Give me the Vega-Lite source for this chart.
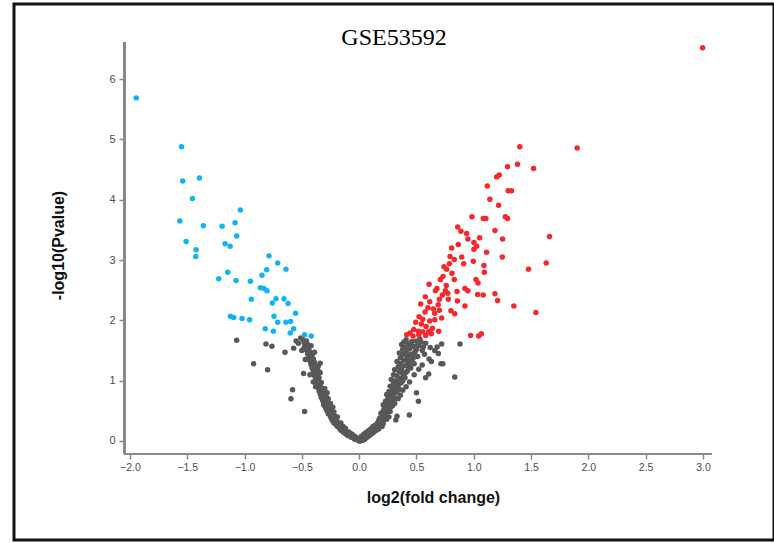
{
  "$schema": "https://vega.github.io/schema/vega-lite/v6.json",
  "width": 774,
  "height": 543,
  "autosize": {"type": "fit", "contains": "padding"},
  "padding": {"left": 14, "top": 4, "right": 0, "bottom": 3},
  "background": "white",
  "config": {
    "view": {"stroke": "#111111", "strokeWidth": 3},
    "axis": {"labelFont": "Liberation Sans", "titleFont": "Liberation Sans"}
  },
  "title": {
    "text": "GSE53592",
    "font": "Liberation Serif",
    "fontSize": 24,
    "fontWeight": "normal",
    "color": "#000000",
    "anchor": "middle",
    "frame": "group",
    "offset": -46
  },
  "data": {
    "values": [
      {"fc": -0.01, "p": 0.02, "g": "ns"}, {"fc": -0.04, "p": 0.03, "g": "ns"}, {"fc": -0.02, "p": 0.05, "g": "ns"}, {"fc": -0.07, "p": 0.06, "g": "ns"},
      {"fc": -0.05, "p": 0.08, "g": "ns"}, {"fc": -0.10, "p": 0.09, "g": "ns"}, {"fc": -0.08, "p": 0.11, "g": "ns"}, {"fc": -0.12, "p": 0.12, "g": "ns"},
      {"fc": -0.10, "p": 0.14, "g": "ns"}, {"fc": -0.14, "p": 0.15, "g": "ns"}, {"fc": -0.12, "p": 0.17, "g": "ns"}, {"fc": -0.16, "p": 0.18, "g": "ns"},
      {"fc": -0.13, "p": 0.20, "g": "ns"}, {"fc": -0.17, "p": 0.21, "g": "ns"}, {"fc": -0.15, "p": 0.23, "g": "ns"}, {"fc": -0.19, "p": 0.24, "g": "ns"},
      {"fc": -0.17, "p": 0.26, "g": "ns"}, {"fc": -0.20, "p": 0.27, "g": "ns"}, {"fc": -0.18, "p": 0.29, "g": "ns"}, {"fc": -0.22, "p": 0.30, "g": "ns"},
      {"fc": -0.19, "p": 0.32, "g": "ns"}, {"fc": -0.23, "p": 0.33, "g": "ns"}, {"fc": -0.21, "p": 0.35, "g": "ns"}, {"fc": -0.24, "p": 0.36, "g": "ns"},
      {"fc": -0.22, "p": 0.38, "g": "ns"}, {"fc": -0.25, "p": 0.40, "g": "ns"}, {"fc": -0.21, "p": 0.41, "g": "ns"}, {"fc": -0.24, "p": 0.43, "g": "ns"},
      {"fc": -0.27, "p": 0.45, "g": "ns"}, {"fc": -0.23, "p": 0.46, "g": "ns"}, {"fc": -0.26, "p": 0.48, "g": "ns"}, {"fc": -0.28, "p": 0.50, "g": "ns"},
      {"fc": -0.25, "p": 0.52, "g": "ns"}, {"fc": -0.29, "p": 0.54, "g": "ns"}, {"fc": -0.27, "p": 0.56, "g": "ns"}, {"fc": -0.30, "p": 0.58, "g": "ns"},
      {"fc": -0.26, "p": 0.60, "g": "ns"}, {"fc": -0.29, "p": 0.62, "g": "ns"}, {"fc": -0.31, "p": 0.64, "g": "ns"}, {"fc": -0.28, "p": 0.66, "g": "ns"},
      {"fc": -0.32, "p": 0.68, "g": "ns"}, {"fc": -0.30, "p": 0.70, "g": "ns"}, {"fc": -0.33, "p": 0.72, "g": "ns"}, {"fc": -0.29, "p": 0.74, "g": "ns"},
      {"fc": -0.31, "p": 0.76, "g": "ns"}, {"fc": -0.34, "p": 0.78, "g": "ns"}, {"fc": -0.32, "p": 0.80, "g": "ns"}, {"fc": -0.35, "p": 0.83, "g": "ns"},
      {"fc": -0.33, "p": 0.85, "g": "ns"}, {"fc": -0.30, "p": 0.87, "g": "ns"}, {"fc": -0.36, "p": 0.90, "g": "ns"}, {"fc": -0.34, "p": 0.92, "g": "ns"},
      {"fc": -0.37, "p": 0.95, "g": "ns"}, {"fc": -0.33, "p": 0.97, "g": "ns"}, {"fc": -0.36, "p": 1.00, "g": "ns"}, {"fc": -0.38, "p": 1.02, "g": "ns"},
      {"fc": -0.35, "p": 1.05, "g": "ns"}, {"fc": -0.39, "p": 1.08, "g": "ns"}, {"fc": -0.37, "p": 1.10, "g": "ns"}, {"fc": -0.34, "p": 1.13, "g": "ns"},
      {"fc": -0.40, "p": 1.16, "g": "ns"}, {"fc": -0.38, "p": 1.18, "g": "ns"}, {"fc": -0.41, "p": 1.21, "g": "ns"}, {"fc": -0.36, "p": 1.24, "g": "ns"},
      {"fc": -0.42, "p": 1.27, "g": "ns"}, {"fc": -0.39, "p": 1.30, "g": "ns"}, {"fc": -0.43, "p": 1.33, "g": "ns"}, {"fc": -0.40, "p": 1.36, "g": "ns"},
      {"fc": -0.44, "p": 1.39, "g": "ns"}, {"fc": -0.41, "p": 1.42, "g": "ns"}, {"fc": -0.45, "p": 1.45, "g": "ns"}, {"fc": -0.43, "p": 1.48, "g": "ns"},
      {"fc": -0.46, "p": 1.51, "g": "ns"}, {"fc": -0.44, "p": 1.54, "g": "ns"}, {"fc": -0.47, "p": 1.57, "g": "ns"}, {"fc": -0.45, "p": 1.60, "g": "ns"},
      {"fc": -0.48, "p": 1.63, "g": "ns"}, {"fc": -0.46, "p": 1.66, "g": "ns"}, {"fc": -0.49, "p": 1.68, "g": "ns"},
      {"fc": -0.36, "p": 1.23, "g": "ns"}, {"fc": -0.34, "p": 1.29, "g": "ns"}, {"fc": -0.40, "p": 0.98, "g": "ns"}, {"fc": -0.33, "p": 0.73, "g": "ns"},
      {"fc": -0.38, "p": 0.90, "g": "ns"}, {"fc": -0.43, "p": 1.10, "g": "ns"}, {"fc": -0.47, "p": 1.35, "g": "ns"}, {"fc": -0.50, "p": 1.50, "g": "ns"},
      {"fc": -0.53, "p": 1.62, "g": "ns"}, {"fc": -0.55, "p": 1.66, "g": "ns"}, {"fc": -0.51, "p": 1.71, "g": "ns"}, {"fc": -0.42, "p": 1.58, "g": "ns"},
      {"fc": -0.39, "p": 1.47, "g": "ns"}, {"fc": -0.35, "p": 1.15, "g": "ns"}, {"fc": -0.28, "p": 0.80, "g": "ns"}, {"fc": -0.25, "p": 0.62, "g": "ns"},
      {"fc": -0.22, "p": 0.48, "g": "ns"}, {"fc": -0.19, "p": 0.40, "g": "ns"}, {"fc": -0.16, "p": 0.30, "g": "ns"}, {"fc": -0.12, "p": 0.21, "g": "ns"},
      {"fc": -0.09, "p": 0.15, "g": "ns"}, {"fc": -0.06, "p": 0.11, "g": "ns"}, {"fc": -0.03, "p": 0.06, "g": "ns"}, {"fc": -0.01, "p": 0.03, "g": "ns"},
      {"fc": 0.00, "p": 0.00, "g": "ns"}, {"fc": 0.00, "p": 0.01, "g": "ns"}, {"fc": 0.01, "p": 0.00, "g": "ns"}, {"fc": -0.02, "p": 0.02, "g": "ns"},
      {"fc": -0.27, "p": 0.50, "g": "ns"}, {"fc": -0.30, "p": 0.66, "g": "ns"}, {"fc": -0.33, "p": 0.82, "g": "ns"}, {"fc": -0.36, "p": 0.96, "g": "ns"},
      {"fc": -0.39, "p": 1.12, "g": "ns"}, {"fc": -0.42, "p": 1.30, "g": "ns"}, {"fc": -0.45, "p": 1.50, "g": "ns"}, {"fc": -0.31, "p": 0.60, "g": "ns"},
      {"fc": -0.24, "p": 0.44, "g": "ns"}, {"fc": -0.20, "p": 0.34, "g": "ns"}, {"fc": -0.14, "p": 0.24, "g": "ns"}, {"fc": -0.08, "p": 0.13, "g": "ns"},
      {"fc": -0.04, "p": 0.08, "g": "ns"}, {"fc": -0.35, "p": 0.88, "g": "ns"}, {"fc": -0.38, "p": 1.06, "g": "ns"}, {"fc": -0.41, "p": 1.25, "g": "ns"},
      {"fc": -0.44, "p": 1.42, "g": "ns"}, {"fc": -0.48, "p": 1.55, "g": "ns"}, {"fc": -0.27, "p": 0.70, "g": "ns"}, {"fc": -0.23, "p": 0.56, "g": "ns"},
      {"fc": -1.069, "p": 1.67, "g": "ns"}, {"fc": -0.813, "p": 1.61, "g": "ns"}, {"fc": -0.761, "p": 1.57, "g": "ns"}, {"fc": -0.921, "p": 1.28, "g": "ns"},
      {"fc": -0.799, "p": 1.18, "g": "ns"}, {"fc": -0.647, "p": 1.47, "g": "ns"}, {"fc": -0.572, "p": 1.54, "g": "ns"}, {"fc": -0.485, "p": 1.12, "g": "ns"},
      {"fc": -0.581, "p": 0.85, "g": "ns"}, {"fc": -0.595, "p": 0.70, "g": "ns"}, {"fc": -0.476, "p": 0.49, "g": "ns"},
      {"fc": 0.01, "p": 0.02, "g": "ns"}, {"fc": 0.03, "p": 0.04, "g": "ns"}, {"fc": 0.05, "p": 0.03, "g": "ns"}, {"fc": 0.04, "p": 0.07, "g": "ns"},
      {"fc": 0.07, "p": 0.06, "g": "ns"}, {"fc": 0.06, "p": 0.10, "g": "ns"}, {"fc": 0.09, "p": 0.09, "g": "ns"}, {"fc": 0.08, "p": 0.13, "g": "ns"},
      {"fc": 0.11, "p": 0.12, "g": "ns"}, {"fc": 0.10, "p": 0.16, "g": "ns"}, {"fc": 0.13, "p": 0.15, "g": "ns"}, {"fc": 0.12, "p": 0.19, "g": "ns"},
      {"fc": 0.15, "p": 0.18, "g": "ns"}, {"fc": 0.13, "p": 0.22, "g": "ns"}, {"fc": 0.16, "p": 0.23, "g": "ns"}, {"fc": 0.14, "p": 0.26, "g": "ns"},
      {"fc": 0.18, "p": 0.27, "g": "ns"}, {"fc": 0.16, "p": 0.30, "g": "ns"}, {"fc": 0.19, "p": 0.31, "g": "ns"}, {"fc": 0.17, "p": 0.34, "g": "ns"},
      {"fc": 0.21, "p": 0.35, "g": "ns"}, {"fc": 0.18, "p": 0.38, "g": "ns"}, {"fc": 0.22, "p": 0.39, "g": "ns"}, {"fc": 0.20, "p": 0.42, "g": "ns"},
      {"fc": 0.24, "p": 0.43, "g": "ns"}, {"fc": 0.19, "p": 0.46, "g": "ns"}, {"fc": 0.23, "p": 0.47, "g": "ns"}, {"fc": 0.21, "p": 0.50, "g": "ns"},
      {"fc": 0.25, "p": 0.51, "g": "ns"}, {"fc": 0.22, "p": 0.54, "g": "ns"}, {"fc": 0.27, "p": 0.55, "g": "ns"}, {"fc": 0.24, "p": 0.58, "g": "ns"},
      {"fc": 0.21, "p": 0.60, "g": "ns"}, {"fc": 0.26, "p": 0.62, "g": "ns"}, {"fc": 0.29, "p": 0.63, "g": "ns"}, {"fc": 0.23, "p": 0.66, "g": "ns"},
      {"fc": 0.28, "p": 0.67, "g": "ns"}, {"fc": 0.25, "p": 0.70, "g": "ns"}, {"fc": 0.31, "p": 0.71, "g": "ns"}, {"fc": 0.27, "p": 0.74, "g": "ns"},
      {"fc": 0.24, "p": 0.77, "g": "ns"}, {"fc": 0.30, "p": 0.78, "g": "ns"}, {"fc": 0.33, "p": 0.80, "g": "ns"}, {"fc": 0.26, "p": 0.82, "g": "ns"},
      {"fc": 0.29, "p": 0.85, "g": "ns"}, {"fc": 0.35, "p": 0.86, "g": "ns"}, {"fc": 0.31, "p": 0.89, "g": "ns"}, {"fc": 0.27, "p": 0.91, "g": "ns"},
      {"fc": 0.34, "p": 0.93, "g": "ns"}, {"fc": 0.30, "p": 0.96, "g": "ns"}, {"fc": 0.37, "p": 0.97, "g": "ns"}, {"fc": 0.32, "p": 1.00, "g": "ns"},
      {"fc": 0.28, "p": 1.02, "g": "ns"}, {"fc": 0.36, "p": 1.04, "g": "ns"}, {"fc": 0.40, "p": 1.05, "g": "ns"}, {"fc": 0.33, "p": 1.08, "g": "ns"},
      {"fc": 0.30, "p": 1.10, "g": "ns"}, {"fc": 0.38, "p": 1.12, "g": "ns"}, {"fc": 0.35, "p": 1.15, "g": "ns"}, {"fc": 0.42, "p": 1.16, "g": "ns"},
      {"fc": 0.31, "p": 1.18, "g": "ns"}, {"fc": 0.37, "p": 1.20, "g": "ns"}, {"fc": 0.45, "p": 1.21, "g": "ns"}, {"fc": 0.34, "p": 1.23, "g": "ns"},
      {"fc": 0.40, "p": 1.25, "g": "ns"}, {"fc": 0.36, "p": 1.28, "g": "ns"}, {"fc": 0.48, "p": 1.28, "g": "ns"}, {"fc": 0.43, "p": 1.30, "g": "ns"},
      {"fc": 0.33, "p": 1.32, "g": "ns"}, {"fc": 0.39, "p": 1.34, "g": "ns"}, {"fc": 0.46, "p": 1.35, "g": "ns"}, {"fc": 0.36, "p": 1.38, "g": "ns"},
      {"fc": 0.42, "p": 1.40, "g": "ns"}, {"fc": 0.51, "p": 1.40, "g": "ns"}, {"fc": 0.38, "p": 1.43, "g": "ns"}, {"fc": 0.45, "p": 1.44, "g": "ns"},
      {"fc": 0.35, "p": 1.46, "g": "ns"}, {"fc": 0.41, "p": 1.48, "g": "ns"}, {"fc": 0.49, "p": 1.49, "g": "ns"}, {"fc": 0.55, "p": 1.50, "g": "ns"},
      {"fc": 0.38, "p": 1.52, "g": "ns"}, {"fc": 0.44, "p": 1.53, "g": "ns"}, {"fc": 0.40, "p": 1.56, "g": "ns"}, {"fc": 0.47, "p": 1.57, "g": "ns"},
      {"fc": 0.52, "p": 1.58, "g": "ns"}, {"fc": 0.37, "p": 1.60, "g": "ns"}, {"fc": 0.43, "p": 1.61, "g": "ns"}, {"fc": 0.58, "p": 1.62, "g": "ns"},
      {"fc": 0.39, "p": 1.64, "g": "ns"}, {"fc": 0.46, "p": 1.65, "g": "ns"}, {"fc": 0.50, "p": 1.66, "g": "ns"}, {"fc": 0.41, "p": 1.68, "g": "ns"},
      {"fc": 0.53, "p": 1.69, "g": "ns"}, {"fc": 0.62, "p": 1.55, "g": "ns"}, {"fc": 0.66, "p": 1.50, "g": "ns"}, {"fc": 0.57, "p": 1.44, "g": "ns"},
      {"fc": 0.61, "p": 1.36, "g": "ns"}, {"fc": 0.55, "p": 1.26, "g": "ns"}, {"fc": 0.52, "p": 1.19, "g": "ns"}, {"fc": 0.48, "p": 1.10, "g": "ns"},
      {"fc": 0.44, "p": 0.98, "g": "ns"}, {"fc": 0.41, "p": 0.90, "g": "ns"}, {"fc": 0.38, "p": 0.84, "g": "ns"}, {"fc": 0.36, "p": 0.76, "g": "ns"},
      {"fc": 0.34, "p": 0.70, "g": "ns"}, {"fc": 0.31, "p": 0.62, "g": "ns"}, {"fc": 0.29, "p": 0.58, "g": "ns"}, {"fc": 0.27, "p": 0.49, "g": "ns"},
      {"fc": 0.26, "p": 0.40, "g": "ns"}, {"fc": 0.24, "p": 0.36, "g": "ns"}, {"fc": 0.21, "p": 0.29, "g": "ns"}, {"fc": 0.20, "p": 0.24, "g": "ns"},
      {"fc": 0.17, "p": 0.20, "g": "ns"}, {"fc": 0.15, "p": 0.25, "g": "ns"}, {"fc": 0.18, "p": 0.33, "g": "ns"}, {"fc": 0.22, "p": 0.44, "g": "ns"},
      {"fc": 0.25, "p": 0.57, "g": "ns"}, {"fc": 0.28, "p": 0.69, "g": "ns"}, {"fc": 0.32, "p": 0.82, "g": "ns"}, {"fc": 0.35, "p": 0.95, "g": "ns"},
      {"fc": 0.39, "p": 1.08, "g": "ns"}, {"fc": 0.43, "p": 1.22, "g": "ns"}, {"fc": 0.47, "p": 1.37, "g": "ns"}, {"fc": 0.50, "p": 1.52, "g": "ns"},
      {"fc": 0.54, "p": 1.64, "g": "ns"}, {"fc": 0.45, "p": 1.62, "g": "ns"}, {"fc": 0.48, "p": 1.46, "g": "ns"}, {"fc": 0.42, "p": 1.34, "g": "ns"},
      {"fc": 0.37, "p": 1.16, "g": "ns"}, {"fc": 0.33, "p": 0.98, "g": "ns"}, {"fc": 0.29, "p": 0.77, "g": "ns"}, {"fc": 0.26, "p": 0.66, "g": "ns"},
      {"fc": 0.23, "p": 0.52, "g": "ns"}, {"fc": 0.19, "p": 0.37, "g": "ns"}, {"fc": 0.12, "p": 0.24, "g": "ns"}, {"fc": 0.10, "p": 0.20, "g": "ns"},
      {"fc": 0.08, "p": 0.17, "g": "ns"}, {"fc": 0.06, "p": 0.14, "g": "ns"}, {"fc": 0.04, "p": 0.11, "g": "ns"}, {"fc": 0.02, "p": 0.08, "g": "ns"},
      {"fc": 0.03, "p": 0.01, "g": "ns"}, {"fc": 0.02, "p": 0.05, "g": "ns"},
      {"fc": 0.05, "p": 0.05, "g": "ns"}, {"fc": 0.09, "p": 0.15, "g": "ns"}, {"fc": 0.14, "p": 0.21, "g": "ns"}, {"fc": 0.17, "p": 0.29, "g": "ns"},
      {"fc": 0.21, "p": 0.40, "g": "ns"}, {"fc": 0.26, "p": 0.53, "g": "ns"}, {"fc": 0.30, "p": 0.67, "g": "ns"}, {"fc": 0.34, "p": 0.87, "g": "ns"},
      {"fc": 0.38, "p": 1.00, "g": "ns"}, {"fc": 0.41, "p": 1.14, "g": "ns"}, {"fc": 0.44, "p": 1.27, "g": "ns"}, {"fc": 0.46, "p": 1.41, "g": "ns"},
      {"fc": 0.51, "p": 1.60, "g": "ns"}, {"fc": 0.56, "p": 1.56, "g": "ns"},
      {"fc": 0.88, "p": 1.61, "g": "ns"}, {"fc": 0.834, "p": 1.06, "g": "ns"}, {"fc": 0.517, "p": 0.66, "g": "ns"}, {"fc": 0.438, "p": 0.43, "g": "ns"},
      {"fc": 0.32, "p": 0.35, "g": "ns"}, {"fc": 0.33, "p": 0.41, "g": "ns"}, {"fc": 0.714, "p": 1.28, "g": "ns"}, {"fc": 0.73, "p": 1.28, "g": "ns"},
      {"fc": 0.607, "p": 1.11, "g": "ns"}, {"fc": 0.691, "p": 1.45, "g": "ns"}, {"fc": 0.72, "p": 1.61, "g": "ns"}, {"fc": 0.68, "p": 1.56, "g": "ns"},
      {"fc": 0.63, "p": 1.32, "g": "ns"}, {"fc": 0.58, "p": 1.05, "g": "ns"}, {"fc": 0.50, "p": 0.80, "g": "ns"},
      {"fc": -1.945, "p": 5.69, "g": "down"}, {"fc": -1.55, "p": 4.88, "g": "down"}, {"fc": -1.54, "p": 4.31, "g": "down"}, {"fc": -1.394, "p": 4.36, "g": "down"},
      {"fc": -1.455, "p": 4.02, "g": "down"}, {"fc": -1.037, "p": 3.83, "g": "down"}, {"fc": -1.565, "p": 3.65, "g": "down"}, {"fc": -1.359, "p": 3.57, "g": "down"},
      {"fc": -1.196, "p": 3.56, "g": "down"}, {"fc": -1.083, "p": 3.62, "g": "down"}, {"fc": -1.069, "p": 3.40, "g": "down"}, {"fc": -1.51, "p": 3.31, "g": "down"},
      {"fc": -1.17, "p": 3.27, "g": "down"}, {"fc": -1.126, "p": 3.23, "g": "down"}, {"fc": -1.423, "p": 3.17, "g": "down"}, {"fc": -1.426, "p": 3.06, "g": "down"},
      {"fc": -0.787, "p": 3.07, "g": "down"}, {"fc": -0.711, "p": 2.95, "g": "down"}, {"fc": -0.639, "p": 2.85, "g": "down"}, {"fc": -0.807, "p": 2.84, "g": "down"},
      {"fc": -0.848, "p": 2.75, "g": "down"}, {"fc": -1.147, "p": 2.80, "g": "down"}, {"fc": -1.225, "p": 2.69, "g": "down"}, {"fc": -1.074, "p": 2.66, "g": "down"},
      {"fc": -0.949, "p": 2.65, "g": "down"}, {"fc": -0.862, "p": 2.54, "g": "down"}, {"fc": -0.83, "p": 2.53, "g": "down"}, {"fc": -0.804, "p": 2.49, "g": "down"},
      {"fc": -0.941, "p": 2.35, "g": "down"}, {"fc": -0.726, "p": 2.36, "g": "down"}, {"fc": -0.656, "p": 2.36, "g": "down"}, {"fc": -0.758, "p": 2.29, "g": "down"},
      {"fc": -0.621, "p": 2.28, "g": "down"}, {"fc": -0.555, "p": 2.12, "g": "down"}, {"fc": -0.743, "p": 2.07, "g": "down"}, {"fc": -1.124, "p": 2.07, "g": "down"},
      {"fc": -1.095, "p": 2.05, "g": "down"}, {"fc": -1.022, "p": 2.03, "g": "down"}, {"fc": -0.956, "p": 2.01, "g": "down"}, {"fc": -0.711, "p": 1.97, "g": "down"},
      {"fc": -0.639, "p": 1.97, "g": "down"}, {"fc": -0.598, "p": 1.98, "g": "down"}, {"fc": -0.819, "p": 1.86, "g": "down"}, {"fc": -0.749, "p": 1.82, "g": "down"},
      {"fc": -0.572, "p": 1.86, "g": "down"}, {"fc": -0.601, "p": 1.79, "g": "down"}, {"fc": -0.476, "p": 1.76, "g": "down"}, {"fc": -0.418, "p": 1.74, "g": "down"},
      {"fc": 2.997, "p": 6.52, "g": "up"},
      {"fc": 1.402, "p": 4.88, "g": "up"}, {"fc": 1.902, "p": 4.86, "g": "up"}, {"fc": 1.295, "p": 4.55, "g": "up"}, {"fc": 1.382, "p": 4.59, "g": "up"},
      {"fc": 1.522, "p": 4.52, "g": "up"}, {"fc": 1.199, "p": 4.38, "g": "up"}, {"fc": 1.222, "p": 4.41, "g": "up"}, {"fc": 1.118, "p": 4.23, "g": "up"},
      {"fc": 1.30, "p": 4.15, "g": "up"}, {"fc": 1.33, "p": 4.15, "g": "up"}, {"fc": 1.141, "p": 4.01, "g": "up"}, {"fc": 1.217, "p": 3.91, "g": "up"},
      {"fc": 0.984, "p": 3.72, "g": "up"}, {"fc": 1.083, "p": 3.69, "g": "up"}, {"fc": 1.106, "p": 3.69, "g": "up"}, {"fc": 1.275, "p": 3.72, "g": "up"},
      {"fc": 1.295, "p": 3.69, "g": "up"}, {"fc": 0.86, "p": 3.55, "g": "up"}, {"fc": 0.888, "p": 3.48, "g": "up"}, {"fc": 0.938, "p": 3.44, "g": "up"},
      {"fc": 1.185, "p": 3.49, "g": "up"}, {"fc": 1.051, "p": 3.37, "g": "up"}, {"fc": 0.949, "p": 3.35, "g": "up"}, {"fc": 1.661, "p": 3.39, "g": "up"},
      {"fc": 1.252, "p": 3.35, "g": "up"}, {"fc": 1.002, "p": 3.29, "g": "up"}, {"fc": 1.025, "p": 3.23, "g": "up"}, {"fc": 0.865, "p": 3.26, "g": "up"},
      {"fc": 0.807, "p": 3.20, "g": "up"}, {"fc": 1.002, "p": 3.18, "g": "up"}, {"fc": 1.112, "p": 3.13, "g": "up"}, {"fc": 0.793, "p": 3.06, "g": "up"},
      {"fc": 0.895, "p": 3.05, "g": "up"}, {"fc": 1.249, "p": 3.05, "g": "up"}, {"fc": 0.83, "p": 3.01, "g": "up"}, {"fc": 0.996, "p": 2.98, "g": "up"},
      {"fc": 0.912, "p": 2.94, "g": "up"}, {"fc": 1.632, "p": 2.95, "g": "up"}, {"fc": 1.089, "p": 2.91, "g": "up"}, {"fc": 0.787, "p": 2.94, "g": "up"},
      {"fc": 0.74, "p": 2.89, "g": "up"}, {"fc": 1.478, "p": 2.85, "g": "up"}, {"fc": 0.764, "p": 2.85, "g": "up"}, {"fc": 1.092, "p": 2.80, "g": "up"},
      {"fc": 0.732, "p": 2.73, "g": "up"}, {"fc": 0.708, "p": 2.68, "g": "up"}, {"fc": 0.83, "p": 2.68, "g": "up"}, {"fc": 1.019, "p": 2.68, "g": "up"},
      {"fc": 1.037, "p": 2.62, "g": "up"}, {"fc": 0.61, "p": 2.60, "g": "up"}, {"fc": 0.679, "p": 2.53, "g": "up"}, {"fc": 0.752, "p": 2.49, "g": "up"},
      {"fc": 0.923, "p": 2.53, "g": "up"}, {"fc": 0.949, "p": 2.49, "g": "up"}, {"fc": 0.854, "p": 2.48, "g": "up"}, {"fc": 0.773, "p": 2.45, "g": "up"},
      {"fc": 0.665, "p": 2.49, "g": "up"}, {"fc": 1.034, "p": 2.43, "g": "up"}, {"fc": 1.083, "p": 2.42, "g": "up"}, {"fc": 1.185, "p": 2.44, "g": "up"},
      {"fc": 1.208, "p": 2.33, "g": "up"}, {"fc": 0.726, "p": 2.42, "g": "up"}, {"fc": 0.578, "p": 2.39, "g": "up"}, {"fc": 0.70, "p": 2.35, "g": "up"},
      {"fc": 0.778, "p": 2.35, "g": "up"}, {"fc": 0.616, "p": 2.31, "g": "up"}, {"fc": 0.857, "p": 2.32, "g": "up"}, {"fc": 0.923, "p": 2.24, "g": "up"},
      {"fc": 0.537, "p": 2.27, "g": "up"}, {"fc": 1.35, "p": 2.24, "g": "up"}, {"fc": 0.647, "p": 2.19, "g": "up"}, {"fc": 0.70, "p": 2.17, "g": "up"},
      {"fc": 0.801, "p": 2.16, "g": "up"}, {"fc": 0.575, "p": 2.14, "g": "up"}, {"fc": 0.659, "p": 2.12, "g": "up"}, {"fc": 0.834, "p": 2.11, "g": "up"},
      {"fc": 1.542, "p": 2.13, "g": "up"}, {"fc": 0.523, "p": 2.06, "g": "up"}, {"fc": 0.555, "p": 2.02, "g": "up"}, {"fc": 0.616, "p": 1.99, "g": "up"},
      {"fc": 0.494, "p": 1.97, "g": "up"}, {"fc": 0.543, "p": 1.94, "g": "up"}, {"fc": 0.584, "p": 1.90, "g": "up"}, {"fc": 0.639, "p": 1.87, "g": "up"},
      {"fc": 0.694, "p": 1.82, "g": "up"}, {"fc": 0.476, "p": 1.85, "g": "up"}, {"fc": 0.517, "p": 1.82, "g": "up"}, {"fc": 0.444, "p": 1.79, "g": "up"},
      {"fc": 0.555, "p": 1.81, "g": "up"}, {"fc": 0.973, "p": 1.75, "g": "up"}, {"fc": 1.043, "p": 1.74, "g": "up"}, {"fc": 1.066, "p": 1.78, "g": "up"},
      {"fc": 0.607, "p": 1.81, "g": "up"}, {"fc": 0.415, "p": 1.76, "g": "up"}, {"fc": 0.47, "p": 1.74, "g": "up"}, {"fc": 0.52, "p": 1.76, "g": "up"},
      {"fc": 0.58, "p": 1.75, "g": "up"}, {"fc": 0.63, "p": 1.78, "g": "up"}, {"fc": 0.66, "p": 2.01, "g": "up"}, {"fc": 0.60, "p": 2.21, "g": "up"},
      {"fc": 0.72, "p": 2.04, "g": "up"}, {"fc": 0.69, "p": 2.26, "g": "up"}, {"fc": 0.76, "p": 2.58, "g": "up"}, {"fc": 0.81, "p": 2.78, "g": "up"}
    ]
  },
  "layer": [
    {
      "mark": {"type": "point", "filled": true, "size": 30, "opacity": 1, "strokeWidth": 0},
      "encoding": {
        "x": {
          "field": "fc", "type": "quantitative",
          "scale": {"domain": [-3.012, 3.62], "nice": false, "zero": false},
          "axis": {
            "title": "log2(fold change)", "offset": -86, "domain": false,
            "values": [-2, -1.5, -1, -0.5, 0, 0.5, 1, 1.5, 2, 2.5, 3], "format": ".1f",
            "grid": false, "tickColor": "#888888", "tickWidth": 1.5, "tickSize": 5,
            "labelFontSize": 10.5, "labelColor": "#4d4d4d", "labelPadding": 3,
            "titleFontSize": 16, "titleFontWeight": "bold", "titleColor": "#111111",
            "titleX": 419, "titlePadding": 17
          }
        },
        "y": {
          "field": "p", "type": "quantitative",
          "scale": {"domain": [-1.642, 7.247], "nice": false, "zero": false},
          "axis": {
            "title": "-log10(Pvalue)", "offset": -111, "domain": false,
            "values": [0, 1, 2, 3, 4, 5, 6], "format": "d",
            "grid": false, "tickColor": "#888888", "tickWidth": 1.5, "tickSize": 6,
            "labelFontSize": 11, "labelColor": "#4d4d4d", "labelPadding": 4,
            "titleFontSize": 16, "titleFontWeight": "bold", "titleColor": "#111111",
            "titleY": 241, "titlePadding": 42
          }
        },
        "color": {
          "field": "g", "type": "nominal",
          "scale": {"domain": ["ns", "up", "down"], "range": ["#585858", "#f5282b", "#12b3f2"]},
          "legend": null
        }
      }
    },
    {
      "mark": {"type": "rule", "color": "#8a8a8a", "strokeWidth": 2},
      "encoding": {
        "x": {"datum": -2.044},
        "x2": {"datum": 3.079},
        "y": {"datum": -0.216}
      }
    },
    {
      "mark": {"type": "rule", "color": "#8a8a8a", "strokeWidth": 2},
      "encoding": {
        "x": {"datum": -2.044},
        "y": {"datum": -0.216},
        "y2": {"datum": 6.617}
      }
    }
  ]
}
